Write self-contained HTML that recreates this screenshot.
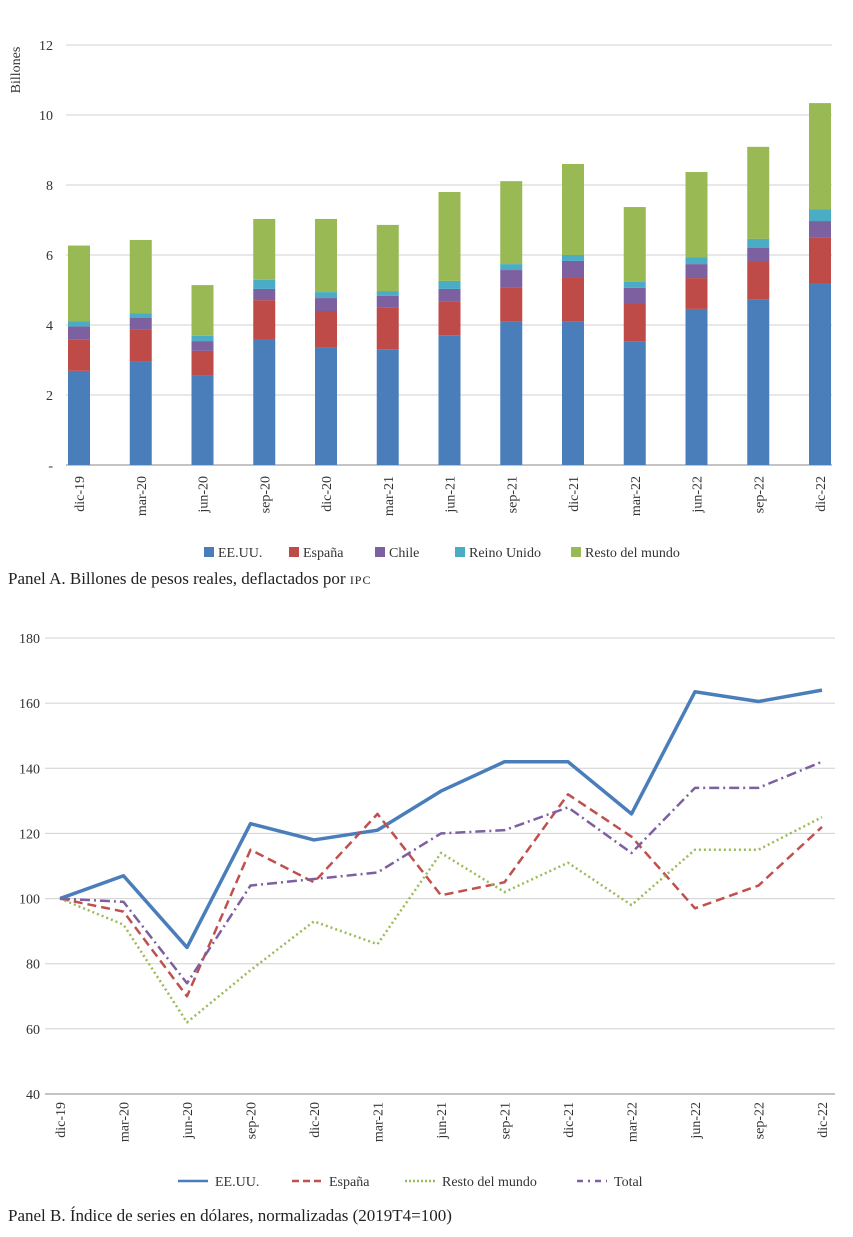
<!DOCTYPE html>
<html><head><meta charset="utf-8"><style>
body{margin:0;background:#fff}
svg{display:block;font-family:"Liberation Serif",serif}
</style></head><body>
<svg id="c" width="853" height="1237" xmlns="http://www.w3.org/2000/svg">
<g id="a"></g>
<g id="b"></g>
<text x="8" y="584" font-size="17" fill="#222">Panel A. Billones de pesos reales, deflactados por <tspan font-size="12" letter-spacing="1">IPC</tspan></text>
<text x="8" y="1221" font-size="17" fill="#222">Panel B. Índice de series en dólares, normalizadas (2019T4=100)</text>
</svg>
<script>
const cats=["dic-19","mar-20","jun-20","sep-20","dic-20","mar-21","jun-21","sep-21","dic-21","mar-22","jun-22","sep-22","dic-22"];
const seriesNamesA=["EE.UU.","España","Chile","Reino Unido","Resto del mundo"];
const eeuuA=[2.69,2.97,2.57,3.6,3.37,3.31,3.71,4.09,4.09,3.54,4.46,4.74,5.2];
const espanaA=[0.9,0.89,0.69,1.11,1.03,1.2,0.95,0.97,1.28,1.06,0.88,1.06,1.31];
const chileA=[0.37,0.34,0.28,0.32,0.37,0.32,0.37,0.51,0.46,0.46,0.4,0.4,0.46];
const reinoA=[0.14,0.14,0.15,0.26,0.17,0.14,0.23,0.17,0.17,0.17,0.2,0.26,0.34];
const restoA=[2.17,2.09,1.45,1.74,2.09,1.89,2.54,2.37,2.6,2.14,2.43,2.63,3.03];
const ticksA=[0,2,4,6,8,10,12];
const seriesNamesB=["EE.UU.","España","Resto del mundo","Total"];
const eeuuB=[100,107,85,123,118,121,133,142,142,126,163.5,160.5,164];
const espanaB=[100,96,70,115,105,126,101,105,132,119,97,104,122];
const restoB=[100,92,62,78,93,86,114,102,111,98,115,115,125];
const totalB=[100,99,74,104,106,108,120,121,128,114,134,134,142];
const ticksB=[40,60,80,100,120,140,160,180];

const NS="http://www.w3.org/2000/svg";
function mk(p,t,at,txt){const e=document.createElementNS(NS,t);for(const k in at)e.setAttribute(k,at[k]);if(txt!=null)e.textContent=txt;p.appendChild(e);return e;}
// Panel A
const A=document.getElementById('a');
const yA=v=>465-v*35;
const xA=i=>79+i*61.75;
ticksA.forEach(t=>{
 if(t>0){const l=mk(A,'line',{x1:66,x2:832,y1:yA(t),y2:yA(t),stroke:'#d0d0d0','stroke-width':1});
 
 }
 const tx=mk(A,'text',{x:53,y:yA(t)+5,'text-anchor':'end','font-size':14,fill:'#333'},t===0?'-':t);
 
 
});
const ax=mk(A,'line',{x1:66,x2:832,y1:465,y2:465,stroke:'#888'});


const yt=mk(A,'text',{transform:'translate(20,70) rotate(-90)','text-anchor':'middle','font-size':14,fill:'#333'},'Billones');


const colsA=["#4a7ebb","#be4b48","#7d60a0","#4bacc6","#98b954"];
const dataA=[eeuuA,espanaA,chileA,reinoA,restoA];
cats.forEach((c,i)=>{
 let base=0;
 dataA.forEach((s,j)=>{
  const r=mk(A,'rect',{x:xA(i)-11,width:22,y:yA(base+s[i]),height:s[i]*35,fill:colsA[j]});
  
  
  base+=s[i];
 });
 const t=mk(A,'text',{transform:`translate(${xA(i)+5},476) rotate(-90)`,'text-anchor':'end','font-size':14,fill:'#333'},c);
 
 
});
const legX=[204,289,375,455,571];
seriesNamesA.forEach((n,j)=>{
 const g=mk(A,'g',{});
 
 
 mk(g,'rect',{x:legX[j],y:547,width:10,height:10,fill:colsA[j]});
 mk(g,'text',{x:legX[j]+14,y:557,'font-size':14,fill:'#333'},n);
});
// Panel B
const B=document.getElementById('b');
const yB=v=>1094-(v-40)*(456/140);
const xB=i=>60+i*63.5;
ticksB.forEach(t=>{
 const l=mk(B,'line',{x1:45,x2:835,y1:yB(t),y2:yB(t),stroke:t===40?'#888':'#d0d0d0','stroke-width':1});
 
 
 const tx=mk(B,'text',{x:40,y:yB(t)+5,'text-anchor':'end','font-size':14,fill:'#333'},t);
 
 
});
cats.forEach((c,i)=>{
 const t=mk(B,'text',{transform:`translate(${xB(i)+5},1102) rotate(-90)`,'text-anchor':'end','font-size':14,fill:'#333'},c);
 
 
});
const stylesB=[{c:"#4a7ebb",w:3.5,d:""},{c:"#c0504d",w:2.5,d:"9,5"},{c:"#9bbb59",w:2.5,d:"2,3"},{c:"#7d60a0",w:2.5,d:"10,4,2,4"}];
const dataB=[eeuuB,espanaB,restoB,totalB];
const names=['line-eeuu','line-espana','line-resto','line-total'];
dataB.forEach((s,j)=>{
 const st=stylesB[j];
 const p=mk(B,'polyline',{points:s.map((v,i)=>xB(i)+','+yB(v)).join(' '),fill:'none',stroke:st.c,'stroke-width':st.w,'stroke-dasharray':st.d,'stroke-linejoin':'round'});
 
 
});
const legBX=[178,292,405,577];
const legBD=["","7,4","2,2","6,5,2,5"];
seriesNamesB.forEach((n,j)=>{
 const st=stylesB[j];
 const g=mk(B,'g',{});
 
 
 mk(g,'line',{x1:legBX[j],x2:legBX[j]+30,y1:1181,y2:1181,stroke:st.c,'stroke-width':2.5,'stroke-dasharray':legBD[j]});
 mk(g,'text',{x:legBX[j]+37,y:1186,'font-size':14,fill:'#333'},n);
});
</script>
</body></html>
